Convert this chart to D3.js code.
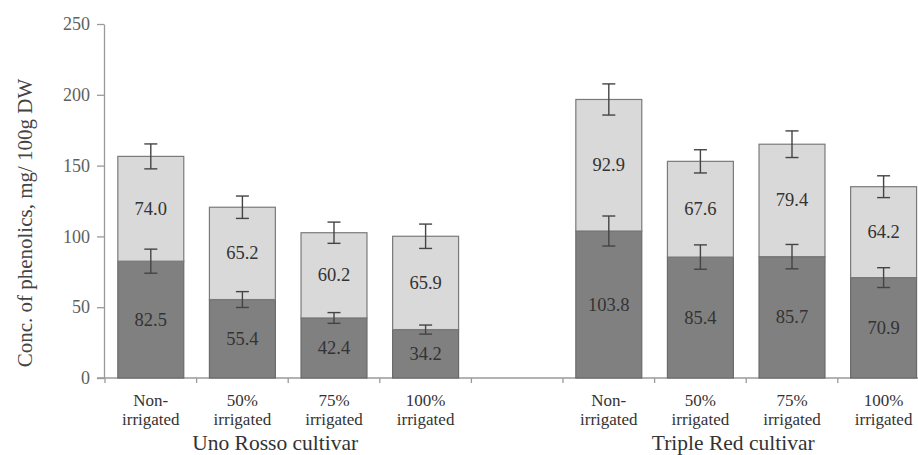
<!DOCTYPE html>
<html>
<head>
<meta charset="utf-8">
<script src="https://cdn.jsdelivr.net/npm/d3@7"></script>
<style>
  body { margin: 0; background: #fff; }
</style>
</head>
<body>
<div class="canvas"></div>
<script>
const svgWidth = 918;
const svgHeight = 455;
const serif = '"Liberation Serif", "DejaVu Serif", serif';

// data
const groups = ['Uno Rosso cultivar', 'Triple Red cultivar'];
const treatments = ['Non-|irrigated', '50%|irrigated', '75%|irrigated', '100%|irrigated'];
const lowerValues = [82.5, 55.4, 42.4, 34.2, 103.8, 85.4, 85.7, 70.9];
const upperValues = [74.0, 65.2, 60.2, 65.9, 92.9, 67.6, 79.4, 64.2];
const lowerErrors = [8.5, 5.6, 3.8, 3.2, 10.6, 8.6, 8.6, 7.0];
const upperErrors = [8.8, 7.9, 7.5, 8.6, 11.0, 8.2, 9.4, 7.7];
const yTicks = [0, 50, 100, 150, 200, 250];

// slots: 4 bars, one empty slot, 4 bars
const slots = ['g0t0', 'g0t1', 'g0t2', 'g0t3', 'gap', 'g1t0', 'g1t1', 'g1t2', 'g1t3'];
const barSlots = slots.filter(s => s !== 'gap');

const svg = d3.select('.canvas')
    .append('svg')
        .attr('width', svgWidth)
        .attr('height', svgHeight)
        .style('font-family', serif);

const x = d3.scaleBand()
    .domain(slots)
    .range([105, 105 + 9 * 91.6])
    .paddingInner(0.28)
    .paddingOuter(0.14);

const y = d3.scaleLinear().domain([0, 250]).range([378, 24]);

const axisColor = '#9a9a9a';

// y axis
const yAxis = d3.axisLeft(y).tickValues(yTicks).tickSize(7).tickSizeOuter(0);
const yAxisGroup = svg.append('g')
    .attr('transform', 'translate(104,0)')
    .call(yAxis)
    .attr('font-family', null);
yAxisGroup.select('.domain').attr('stroke', axisColor).attr('stroke-width', 1.3);
yAxisGroup.selectAll('.tick line').attr('stroke', axisColor).attr('stroke-width', 1.3);
yAxisGroup.selectAll('.tick text')
    .attr('x', -14)
    .attr('font-size', 18)
    .attr('fill', '#606060')
    .style('font-family', serif);

// x axis line and slot boundary ticks
const step = x.step();
const x0 = x.range()[0];
svg.append('line')
    .attr('x1', 97).attr('x2', svgWidth)
    .attr('y1', y(0)).attr('y2', y(0))
    .attr('stroke', axisColor).attr('stroke-width', 1.3);
svg.selectAll('.xtick')
    .data(d3.range(slots.length + 1))
    .enter().append('line')
    .attr('class', 'xtick')
    .attr('x1', i => x0 + i * step).attr('x2', i => x0 + i * step)
    .attr('y1', y(0)).attr('y2', y(0) + 5)
    .attr('stroke', axisColor).attr('stroke-width', 1.3);

// bars
const barData = barSlots.map((s, i) => ({
    slot: s,
    lower: lowerValues[i],
    upper: upperValues[i],
    lowerErr: lowerErrors[i],
    upperErr: upperErrors[i]
}));

const bars = svg.selectAll('.bar')
    .data(barData)
    .enter().append('g')
    .attr('class', 'bar');

bars.append('rect')
    .attr('x', d => x(d.slot))
    .attr('width', x.bandwidth())
    .attr('y', d => y(d.lower))
    .attr('height', d => y(0) - y(d.lower))
    .attr('fill', '#808080')
    .attr('stroke', '#6a6a6a')
    .attr('stroke-width', 1.2);

bars.append('rect')
    .attr('x', d => x(d.slot))
    .attr('width', x.bandwidth())
    .attr('y', d => y(d.lower + d.upper))
    .attr('height', d => y(d.lower) - y(d.lower + d.upper))
    .attr('fill', '#d9d9d9')
    .attr('stroke', '#7a7a7a')
    .attr('stroke-width', 1.2);

// value labels
bars.append('text')
    .attr('x', d => x(d.slot) + x.bandwidth() / 2)
    .attr('y', d => (y(0) + y(d.lower)) / 2 + 6)
    .attr('text-anchor', 'middle')
    .attr('font-size', 18.5)
    .attr('fill', '#333')
    .style('font-family', serif)
    .text(d => d.lower.toFixed(1));

bars.append('text')
    .attr('x', d => x(d.slot) + x.bandwidth() / 2)
    .attr('y', d => (y(d.lower) + y(d.lower + d.upper)) / 2 + 6)
    .attr('text-anchor', 'middle')
    .attr('font-size', 18.5)
    .attr('fill', '#333')
    .style('font-family', serif)
    .text(d => d.upper.toFixed(1));

// error bars
const capW = 6.5;
const drawError = (sel, valueFn, errFn) => {
    const cx = d => x(d.slot) + x.bandwidth() / 2;
    sel.append('line')
        .attr('x1', cx).attr('x2', cx)
        .attr('y1', d => y(valueFn(d) + errFn(d)))
        .attr('y2', d => y(valueFn(d) - errFn(d)))
        .attr('stroke', '#444').attr('stroke-width', 1.4);
    [1, -1].forEach(sign => {
        sel.append('line')
            .attr('x1', d => cx(d) - capW).attr('x2', d => cx(d) + capW)
            .attr('y1', d => y(valueFn(d) + sign * errFn(d)))
            .attr('y2', d => y(valueFn(d) + sign * errFn(d)))
            .attr('stroke', '#444').attr('stroke-width', 1.4);
    });
};
drawError(bars, d => d.lower, d => d.lowerErr);
drawError(bars, d => d.lower + d.upper, d => d.upperErr);

// category labels, one text per line
const catLines = [];
barSlots.forEach(s => {
    treatments[+s.slice(3)].split('|').forEach((p, i) => {
        catLines.push({ slot: s, line: i, text: p });
    });
});
svg.selectAll('.cat')
    .data(catLines)
    .enter().append('text')
    .attr('class', 'cat')
    .attr('x', d => x(d.slot) + x.bandwidth() / 2)
    .attr('y', d => 405.5 + d.line * 19.5)
    .attr('text-anchor', 'middle')
    .attr('font-size', 17)
    .attr('fill', '#333')
    .style('font-family', serif)
    .text(d => d.text);

// group labels
svg.selectAll('.group')
    .data(groups)
    .enter().append('text')
    .attr('class', 'group')
    .attr('x', (g, i) => (x(barSlots[i * 4]) + x(barSlots[i * 4 + 3]) + x.bandwidth()) / 2 - 13)
    .attr('y', 450)
    .attr('text-anchor', 'middle')
    .attr('font-size', 21.5)
    .attr('fill', '#333')
    .style('font-family', serif)
    .text(g => g);

// y axis title
svg.append('text')
    .attr('transform', 'translate(32,223) rotate(-90)')
    .attr('text-anchor', 'middle')
    .attr('font-size', 21)
    .attr('fill', '#444')
    .style('font-family', serif)
    .text('Conc. of  phenolics, mg/ 100g DW');
</script>
</body>
</html>
